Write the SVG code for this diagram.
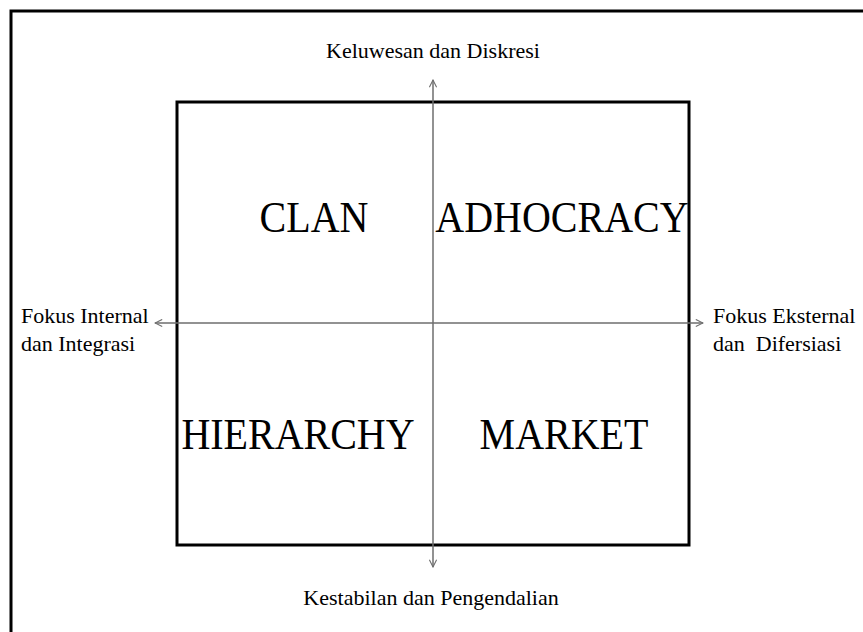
<svg xmlns="http://www.w3.org/2000/svg" width="863" height="632" viewBox="0 0 863 632">
  <defs>
    <marker id="open-arrow" viewBox="0 0 10 10" refX="9" refY="5" markerWidth="9" markerHeight="9" markerUnits="userSpaceOnUse" orient="auto">
      <path d="M1,1 L9,5 L1,9" fill="none" stroke="#6e6e6e" stroke-width="1.2"/>
    </marker>
    <style>
      text { font-family: "Liberation Serif", "Times New Roman", serif; fill: #000; }
      .axis-label { font-size: 22px; }
      .quadrant { font-size: 40px; text-anchor: middle; }
      .axis { stroke: #6e6e6e; stroke-width: 1.5; fill: none; marker-end: url(#open-arrow); }
    </style>
  </defs>

  <rect width="863" height="632" fill="#ffffff"/>

  <!-- outer frame (runs off the right and bottom edges) -->
  <rect id="frame" x="11" y="11" width="880" height="650" fill="none" stroke="#000" stroke-width="3"/>

  <!-- quadrant box -->
  <g id="box">
    <rect x="177" y="102" width="512" height="443" fill="none" stroke="#000" stroke-width="3"/>
  </g>

  <!-- axes -->
  <g id="connectors">
    <line class="axis" x1="433" y1="323" x2="433" y2="80"/>
    <line class="axis" x1="433" y1="323" x2="433" y2="567"/>
    <line class="axis" x1="433" y1="323" x2="155" y2="323"/>
    <line class="axis" x1="433" y1="323" x2="703" y2="323"/>
  </g>

  <!-- quadrant names, slightly stretched vertically -->
  <g id="clan" transform="translate(314,232) scale(1,1.1)"><text class="quadrant">CLAN</text></g>
  <g id="adhocracy" transform="translate(562,232) scale(1,1.1)"><text class="quadrant">ADHOCRACY</text></g>
  <g id="hierarchy" transform="translate(298,449) scale(1,1.1)"><text class="quadrant">HIERARCHY</text></g>
  <g id="market" transform="translate(564,449) scale(1,1.1)"><text class="quadrant">MARKET</text></g>

  <g id="top-label"><text class="axis-label" x="433" y="58" text-anchor="middle">Keluwesan dan Diskresi</text></g>
  <g id="bottom-label"><text class="axis-label" x="431" y="605" text-anchor="middle">Kestabilan dan Pengendalian</text></g>
  <g id="left-label">
    <text class="axis-label" x="21" y="323">Fokus Internal</text>
    <text class="axis-label" x="21" y="351">dan Integrasi</text>
  </g>
  <g id="right-label">
    <text class="axis-label" x="713" y="323">Fokus Eksternal</text>
    <text class="axis-label" x="713" y="351" xml:space="preserve">dan  Difersiasi</text>
  </g>
</svg>
